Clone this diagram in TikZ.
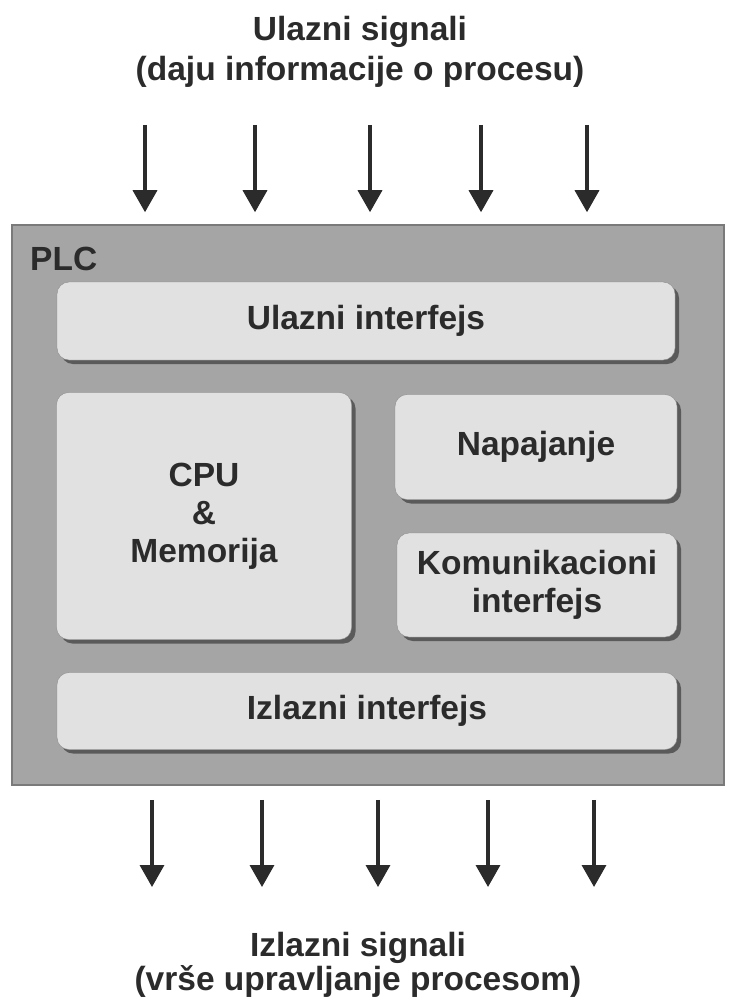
\documentclass[tikz,border=0pt]{standalone}
\usepackage{fontspec}
\setmainfont{Liberation Sans}
\usetikzlibrary{shapes,arrows.meta,shadows,positioning}
\definecolor{plcgray}{HTML}{A5A5A5}
\definecolor{plcedge}{HTML}{7A7A7A}
\definecolor{unitfill}{HTML}{E1E1E1}
\definecolor{unitedge}{HTML}{8C8C8C}
\definecolor{ink}{HTML}{2B2B2B}
\tikzstyle{plcbox} = [rectangle, draw=plcedge, fill=plcgray, line width=1.5pt, minimum width=712pt, minimum height=560pt]
\tikzstyle{unit} = [rectangle, draw=unitedge, fill=unitfill, rounded corners=12pt, align=center, inner sep=0pt, text=ink, font=\bfseries\fontsize{33.5}{38}\selectfont, drop shadow={shadow xshift=4pt, shadow yshift=-4pt, opacity=0.45, fill=black}]
\tikzstyle{caption} = [align=center, inner sep=0pt, text=ink, font=\bfseries\fontsize{33.5}{40}\selectfont]
\tikzstyle{signal} = [->, line width=3.5pt, draw=ink]

\begin{document}
\begin{tikzpicture}[x=1pt, y=-1pt, >={Triangle[length=22pt,width=24pt]}]
   \useasboundingbox (0,0) rectangle (728,1003);
   % nodes
   \node[caption] (intext) at (360,52)   {Ulazni signali\\(daju informacije o procesu)};
   \node[plcbox] (plc) at (368,505)      {};
   \node[caption, anchor=base west] (plcname) at (30,270) {PLC};
   \node[unit, minimum width=618pt, minimum height=78pt] (uin) at (366,321)  {Ulazni interfejs};
   \node[unit, minimum width=295pt, minimum height=247pt] (cpu) at (204,516) {CPU\\\&\\Memorija};
   \node[unit, minimum width=282pt, minimum height=105pt] (nap) at (536,447) {Napajanje};
   \node[unit, minimum width=280pt, minimum height=104pt] (kom) at (537,585) {Komunikacioni\\interfejs};
   \node[unit, minimum width=620pt, minimum height=77pt] (izin) at (367,711) {Izlazni interfejs};
   \node[caption, font=\bfseries\fontsize{33.5}{34}\selectfont] (outtext) at (358,965) {Izlazni signali\\(vrše upravljanje procesom)};

   % signal ends
   \coordinate (t1) at (145,125);
   \coordinate (t2) at (255,125);
   \coordinate (t3) at (370,125);
   \coordinate (t4) at (481,125);
   \coordinate (t5) at (587,125);
   \coordinate (b1) at (152,887);
   \coordinate (b2) at (262,887);
   \coordinate (b3) at (378,887);
   \coordinate (b4) at (488,887);
   \coordinate (b5) at (594,887);

   % edges
   \draw[signal, shorten >=12pt] (t1) -- (t1 |- plc.north);
   \draw[signal, shorten >=12pt] (t2) -- (t2 |- plc.north);
   \draw[signal, shorten >=12pt] (t3) -- (t3 |- plc.north);
   \draw[signal, shorten >=12pt] (t4) -- (t4 |- plc.north);
   \draw[signal, shorten >=12pt] (t5) -- (t5 |- plc.north);
   \draw[signal, shorten <=14pt] (b1 |- plc.south) -- (b1);
   \draw[signal, shorten <=14pt] (b2 |- plc.south) -- (b2);
   \draw[signal, shorten <=14pt] (b3 |- plc.south) -- (b3);
   \draw[signal, shorten <=14pt] (b4 |- plc.south) -- (b4);
   \draw[signal, shorten <=14pt] (b5 |- plc.south) -- (b5);
\end{tikzpicture}
\end{document}
